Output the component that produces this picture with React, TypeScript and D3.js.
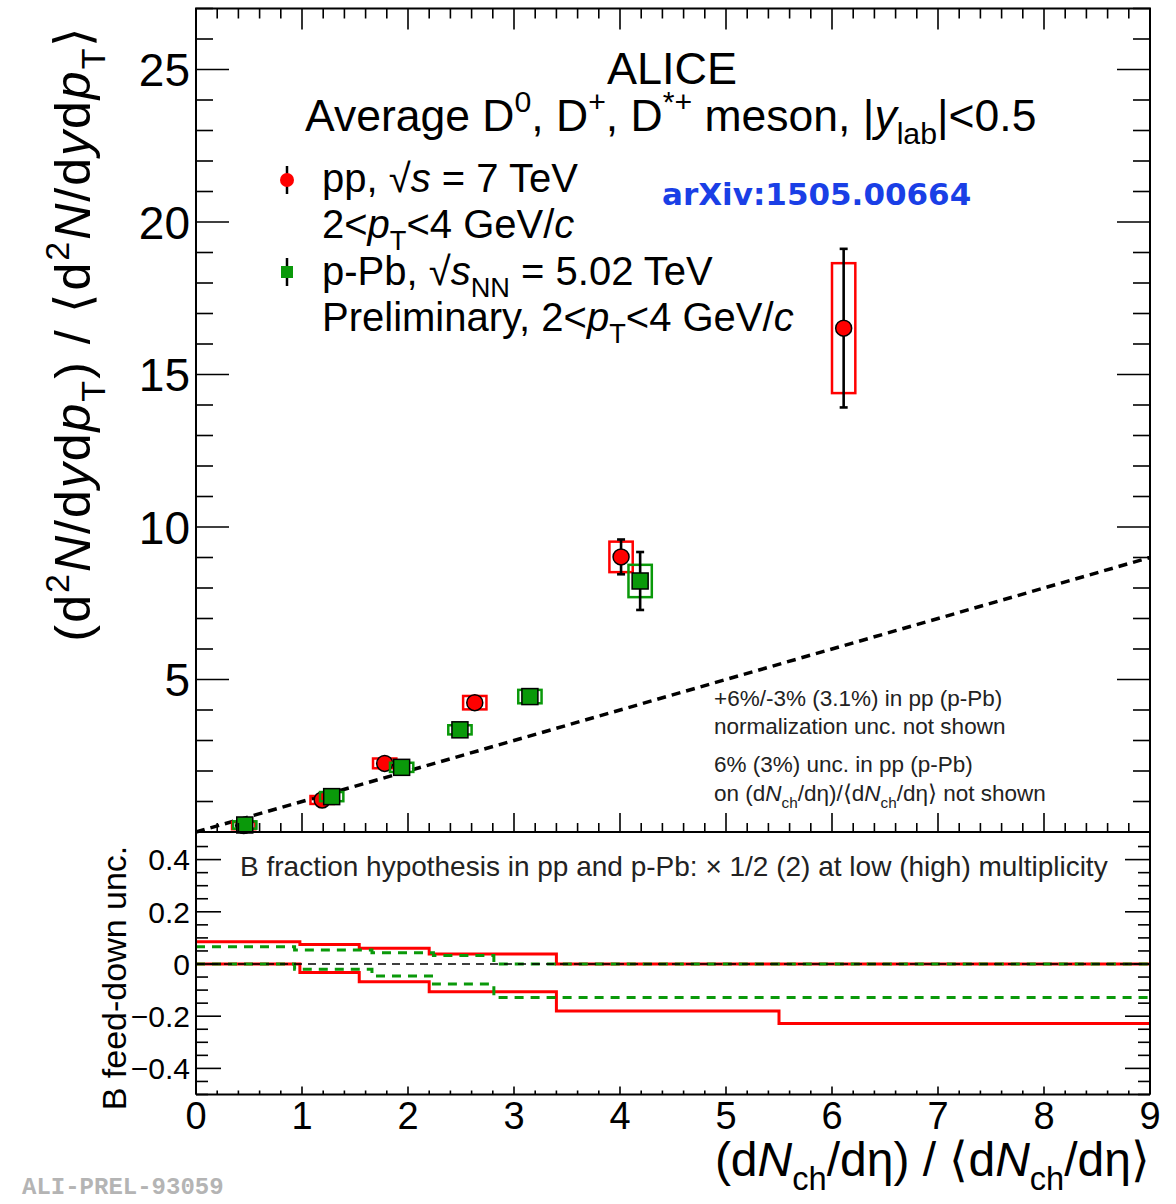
import React from "react";
import * as d3 from "d3";

// ---------------- data ----------------
const ppX = [0.45, 1.19, 1.78, 2.63, 4.01, 6.11];
const ppY = [0.21, 1.05, 2.25, 4.24, 9.02, 16.52];
const ppStat = [0.06, 0.1, 0.12, 0.15, 0.57, 2.6];
const ppSyst = [0.12, 0.13, 0.16, 0.22, 0.5, 2.13];

const pPbX = [0.46, 1.28, 1.94, 2.49, 3.15, 4.19];
const pPbY = [0.23, 1.16, 2.12, 3.35, 4.44, 8.23];
const pPbStat = [0.06, 0.1, 0.1, 0.1, 0.2, 0.95];
const pPbSyst = [0.12, 0.15, 0.15, 0.15, 0.22, 0.53];

const systHalfWidth = 0.11;

const refLineX = [0, 9];
const refLineY = [0, 9];

const ppBinEdges = [0, 0.98, 1.54, 2.2, 3.4, 5.5, 9];
const ppUncHigh = [0.085, 0.075, 0.06, 0.038, 0, 0];
const ppUncLow = [0, -0.033, -0.068, -0.106, -0.18, -0.228];
const pPbBinEdges = [0, 0.93, 1.66, 2.24, 2.81, 9];
const pPbUncHigh = [0.066, 0.054, 0.043, 0.033, 0];
const pPbUncLow = [0, -0.02, -0.046, -0.077, -0.128];

const xTickLabels = ["0", "1", "2", "3", "4", "5", "6", "7", "8", "9"];
const yUpperTickLabels = ["5", "10", "15", "20", "25"];
const yLowerTickLabels = ["\u22120.4", "\u22120.2", "0", "0.2", "0.4"];
const yLowerTickValues = [-0.4, -0.2, 0, 0.2, 0.4];

// ---------------- layout ----------------
const W = 1176;
const H = 1204;
const FONT = "'Liberation Sans', Arial, Helvetica, sans-serif";
const RED = "#ff0000";
const GREEN = "#0a990a";

const x = d3.scaleLinear().domain([0, 9]).range([196, 1150]);
const yU = d3.scaleLinear().domain([0, 27]).range([832, 8.5]);
const yL = d3.scaleLinear().domain([-0.5, 0.5]).range([1094.5, 833.5]);

type Seg = [string, string?];

function Rich({ x: px, y: py, size, segs, anchor = "start", fill = "#000", rotate = 0, weight = "normal", family = FONT, spacing = 0 }: any) {
  let shift = 0;
  const parts = (segs as Seg[]).map((s, i) => {
    const kind = s[1] || "";
    const isSub = kind.includes("sub");
    const isSup = kind.includes("sup");
    const target = isSub ? size * 0.3 : isSup ? -size * 0.42 : 0;
    const dy = target - shift;
    shift = target;
    return (
      <tspan key={i} dy={dy} fontSize={isSub || isSup ? size * 0.68 : size} fontStyle={kind === "i" ? "italic" : "normal"}>
        {s[0]}
      </tspan>
    );
  });
  const transform = rotate ? `rotate(${rotate} ${px} ${py})` : undefined;
  return (
    <text
      x={px}
      y={py}
      fontSize={size}
      fontFamily={family}
      textAnchor={anchor}
      fill={fill}
      transform={transform}
      fontWeight={weight}
      letterSpacing={spacing}
    >
      {parts}
    </text>
  );
}

function stepPoints(edges: number[], vals: number[]) {
  const pts: [number, number][] = vals.map((v, i) => [edges[i], v]);
  pts.push([edges[edges.length - 1], vals[vals.length - 1]]);
  return pts;
}

export default function App() {
  const stepLine = d3
    .line<[number, number]>()
    .x((d) => x(d[0]))
    .y((d) => yL(d[1]))
    .curve(d3.curveStepAfter);

  const xMinor = d3.range(0, 45).map((i) => i * 0.2).concat([9]);
  const yUMinor = d3.range(0, 28);
  const yLMinor = d3.range(-10, 11).map((i) => i * 0.05);

  const left = x(0);
  const right = x(9);
  const top = yU(27);
  const mid = yU(0);
  const bottom = yL(-0.5);

  const ticks: any[] = [];
  xMinor.forEach((v, i) => {
    const major = Math.abs(v - Math.round(v)) < 1e-6;
    ticks.push(<line key={`ub${i}`} x1={x(v)} x2={x(v)} y1={mid} y2={mid - (major ? 19 : 9)} />);
    ticks.push(<line key={`ut${i}`} x1={x(v)} x2={x(v)} y1={top} y2={top + (major ? 21 : 10)} />);
    ticks.push(<line key={`lb${i}`} x1={x(v)} x2={x(v)} y1={bottom} y2={bottom - (major ? 8 : 4)} />);
  });
  yUMinor.forEach((v) => {
    const major = v % 5 === 0;
    const len = major ? 33 : 17;
    ticks.push(<line key={`yl${v}`} x1={left} x2={left + len} y1={yU(v)} y2={yU(v)} />);
    ticks.push(<line key={`yr${v}`} x1={right} x2={right - len} y1={yU(v)} y2={yU(v)} />);
  });
  yLMinor.forEach((v, i) => {
    const major = Math.abs(v / 0.2 - Math.round(v / 0.2)) < 1e-6;
    const len = major ? 25 : 12;
    if (v > 0.48) return;
    ticks.push(<line key={`ll${i}`} x1={left} x2={left + len} y1={yL(v)} y2={yL(v)} />);
    ticks.push(<line key={`lr${i}`} x1={right} x2={right - len} y1={yL(v)} y2={yL(v)} />);
  });

  const markers = (xs: number[], ys: number[], stat: number[], syst: number[], color: string, shape: string) => (
    <g>
      {xs.map((xv, i) => (
        <rect
          key={`s${i}`}
          x={x(xv - systHalfWidth)}
          y={yU(ys[i] + syst[i])}
          width={x(xv + systHalfWidth) - x(xv - systHalfWidth)}
          height={yU(ys[i] - syst[i]) - yU(ys[i] + syst[i])}
          fill="none"
          stroke={color}
          strokeWidth={2.5}
        />
      ))}
      {xs.map((xv, i) => (
        <g key={`e${i}`} stroke="#000" strokeWidth={2.6}>
          <line x1={x(xv)} x2={x(xv)} y1={yU(ys[i] + stat[i])} y2={yU(ys[i] - stat[i])} />
          <line x1={x(xv) - 4} x2={x(xv) + 4} y1={yU(ys[i] + stat[i])} y2={yU(ys[i] + stat[i])} />
          <line x1={x(xv) - 4} x2={x(xv) + 4} y1={yU(ys[i] - stat[i])} y2={yU(ys[i] - stat[i])} />
        </g>
      ))}
      {xs.map((xv, i) =>
        shape === "circle" ? (
          <circle key={`m${i}`} cx={x(xv)} cy={yU(ys[i])} r={8} fill={color} stroke="#000" strokeWidth={1.5} />
        ) : (
          <rect key={`m${i}`} x={x(xv) - 8} y={yU(ys[i]) - 8} width={16} height={16} fill={color} stroke="#000" strokeWidth={1.5} />
        )
      )}
    </g>
  );

  const refPath = d3
    .line<number>()
    .x((d, i) => x(refLineX[i]))
    .y((d, i) => yU(refLineY[i]))(refLineX);

  return (
    <svg width={W} height={H} style={{ position: "absolute", left: 0, top: 0, background: "#fff" }} xmlns="http://www.w3.org/2000/svg">
      <rect x={0} y={0} width={W} height={H} fill="#fff" />

      <path d={refPath || ""} stroke="#000" strokeWidth={3.5} strokeDasharray="9 6" fill="none" />

      {markers(ppX, ppY, ppStat, ppSyst, RED, "circle")}
      {markers(pPbX, pPbY, pPbStat, pPbSyst, GREEN, "square")}

      <path d={stepLine(stepPoints(ppBinEdges, ppUncHigh)) || ""} stroke={RED} strokeWidth={3} fill="none" />
      <path d={stepLine(stepPoints(ppBinEdges, ppUncLow)) || ""} stroke={RED} strokeWidth={3} fill="none" />
      <path d={stepLine(stepPoints(pPbBinEdges, pPbUncHigh)) || ""} stroke={GREEN} strokeWidth={3} strokeDasharray="9 7" fill="none" />
      <path d={stepLine(stepPoints(pPbBinEdges, pPbUncLow)) || ""} stroke={GREEN} strokeWidth={3} strokeDasharray="9 7" fill="none" />
      <line x1={left} x2={right} y1={yL(0)} y2={yL(0)} stroke="#000" strokeWidth={1.5} strokeDasharray="8 6" />

      <g stroke="#000" strokeWidth={2} fill="none">
        <rect x={left} y={top} width={right - left} height={mid - top} />
        <line x1={left} x2={left} y1={mid} y2={bottom} />
        <line x1={right} x2={right} y1={mid} y2={bottom} />
        <line x1={left} x2={right} y1={bottom} y2={bottom} />
      </g>
      <g stroke="#000" strokeWidth={1.6}>{ticks}</g>

      <g fontFamily={FONT} fill="#000">
        {yUpperTickLabels.map((t) => (
          <text key={t} x={190} y={yU(+t)} dy="0.36em" fontSize={46} textAnchor="end">
            {t}
          </text>
        ))}
        {yLowerTickLabels.map((t, i) => (
          <text key={t} x={190} y={yL(yLowerTickValues[i])} dy="0.36em" fontSize={30} textAnchor="end">
            {t}
          </text>
        ))}
        {xTickLabels.map((t, i) => (
          <text key={t} x={x(i)} y={1115} dy="0.36em" fontSize={38} textAnchor="middle">
            {t}
          </text>
        ))}
      </g>

      <Rich
        x={90}
        y={333}
        size={50}
        anchor="middle"
        rotate={-90}
        spacing={2}
        segs={[
          ["(d"],
          ["2", "sup"],
          ["N", "i"],
          ["/d"],
          ["y", "i"],
          ["d"],
          ["p", "i"],
          ["T", "sub"],
          [") / \u27E8d"],
          ["2", "sup"],
          ["N", "i"],
          ["/d"],
          ["y", "i"],
          ["d"],
          ["p", "i"],
          ["T", "sub"],
          ["\u27E9"],
        ]}
      />
      <Rich x={126} y={978} size={34} anchor="middle" rotate={-90} segs={[["B feed-down unc."]]} />
      <Rich
        x={1150}
        y={1176}
        size={48}
        anchor="end"
        segs={[
          ["(d"],
          ["N", "i"],
          ["ch", "sub"],
          ["/d\u03B7) / \u27E8d"],
          ["N", "i"],
          ["ch", "sub"],
          ["/d\u03B7\u27E9"],
        ]}
      />

      <Rich x={672} y={84} size={45} anchor="middle" segs={[["ALICE"]]} />
      <Rich
        x={305}
        y={131}
        size={44.5}
        segs={[
          ["Average D"],
          ["0", "sup"],
          [", D"],
          ["+", "sup"],
          [", D"],
          ["*+", "sup"],
          [" meson, |"],
          ["y", "i"],
          ["lab", "sub"],
          ["|<0.5"],
        ]}
      />

      <g stroke="#000" strokeWidth={2.5}>
        <line x1={287} x2={287} y1={166} y2={194} />
        <line x1={287} x2={287} y1={258} y2={286} />
      </g>
      <circle cx={287} cy={180} r={7} fill={RED} />
      <rect x={281} y={266} width={12} height={12} fill={GREEN} />
      <Rich x={322} y={192} size={40} segs={[["pp, \u221A"], ["s", "i"], [" = 7 TeV"]]} />
      <Rich x={322} y={238} size={40} segs={[["2<"], ["p", "i"], ["T", "sub"], ["<4 GeV/"], ["c", "i"]]} />
      <Rich x={322} y={285} size={40} segs={[["p-Pb, \u221A"], ["s", "i"], ["NN", "sub"], [" = 5.02 TeV"]]} />
      <Rich x={322} y={331} size={40} segs={[["Preliminary, 2<"], ["p", "i"], ["T", "sub"], ["<4 GeV/"], ["c", "i"]]} />

      <Rich x={662} y={205} size={31} weight="bold" fill="#1a3fe6" family="'DejaVu Sans', sans-serif" segs={[["arXiv:1505.00664"]]} />

      <Rich x={714} y={706} size={22.5} fill="#222" segs={[["+6%/-3% (3.1%) in pp (p-Pb)"]]} />
      <Rich x={714} y={734} size={22.5} fill="#222" segs={[["normalization unc. not shown"]]} />
      <Rich x={714} y={772} size={22.5} fill="#222" segs={[["6% (3%) unc. in pp (p-Pb)"]]} />
      <Rich
        x={714}
        y={801}
        size={22.5}
        fill="#222"
        segs={[["on (d"], ["N", "i"], ["ch", "sub"], ["/d\u03B7)/\u27E8d"], ["N", "i"], ["ch", "sub"], ["/d\u03B7\u27E9 not shown"]]}
      />

      <Rich
        x={240}
        y={876}
        size={28}
        fill="#222"
        segs={[["B fraction hypothesis in pp and p-Pb: \u00D7 1/2 (2) at low (high) multiplicity"]]}
      />

      <Rich x={22} y={1194} size={24} weight="bold" fill="#b4b4b4" family="'Liberation Mono', 'DejaVu Sans Mono', monospace" segs={[["ALI-PREL-93059"]]} />
    </svg>
  );
}
